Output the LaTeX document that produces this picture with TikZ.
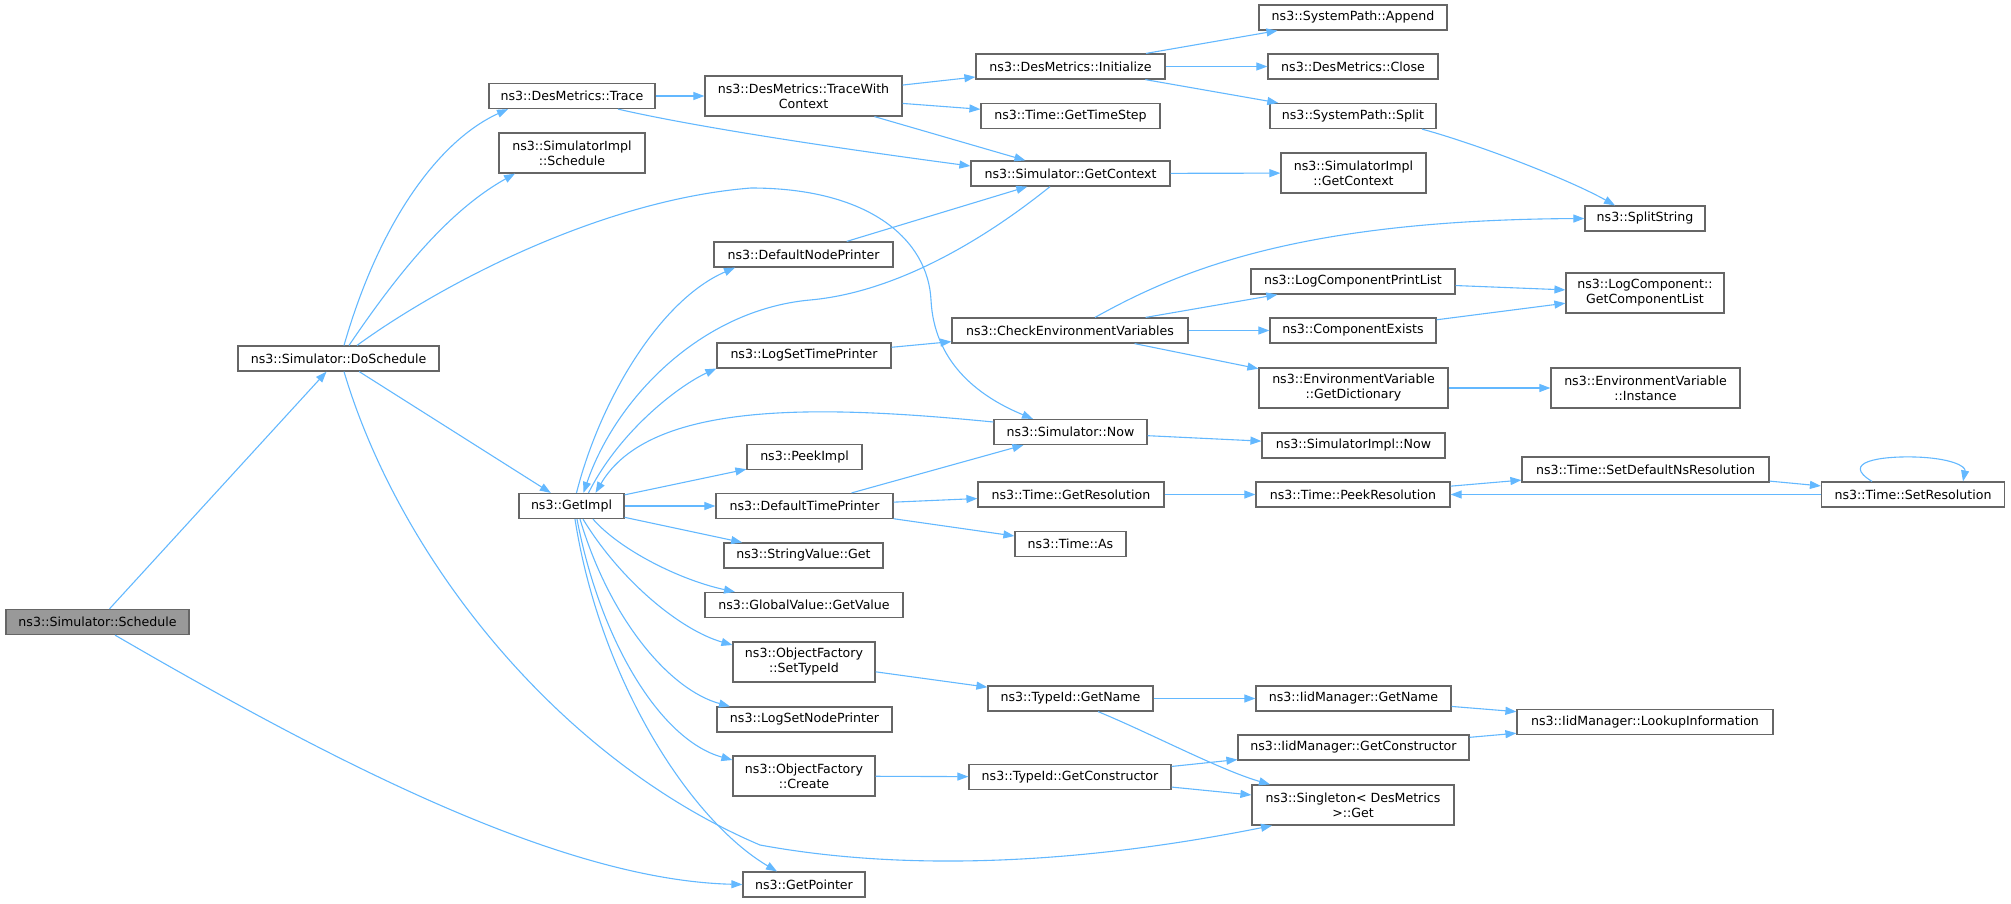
\documentclass[tikz,border=0pt]{standalone}
\usepackage{fontspec}
\setmainfont{DejaVu Sans}
\usetikzlibrary{arrows.meta}
\definecolor{edgec}{HTML}{63B8FF}
\definecolor{boxc}{HTML}{666666}
\definecolor{hl}{HTML}{999999}
\begin{document}
\begin{tikzpicture}[x=1pt,y=-1pt,
  box/.style={draw=boxc, line width=1.2pt, fill=white, inner xsep=2pt, inner ysep=1pt,
    minimum height=25pt, align=center, font=\fontsize{12.6}{15}\selectfont, text=black},
  boxtwo/.style={box, minimum height=40pt},
  edge/.style={draw=edgec, line width=1.1pt, -{Triangle[length=11pt,width=8pt]}}]
\useasboundingbox (0,0) rectangle (2011,903);
% column 0-1
\node[box, fill=hl, minimum width=183pt] (Sched) at (97.5,622) {ns3::Simulator::Schedule};
\node[box, minimum width=201pt] (DoSch) at (338.5,358.5) {ns3::Simulator::DoSchedule};
% column 2
\node[box, minimum width=166pt] (Trace) at (572,96) {ns3::DesMetrics::Trace};
\node[boxtwo, minimum width=146pt] (SImplSched) at (572,153) {ns3::SimulatorImpl\\::Schedule};
\node[box, minimum width=105pt] (GetImpl) at (571.5,506) {ns3::GetImpl};
% column 3
\node[boxtwo, minimum width=197pt] (TWC) at (803.5,96) {ns3::DesMetrics::TraceWith\\Context};
\node[box, minimum width=179pt] (DNP) at (803.5,254.5) {ns3::DefaultNodePrinter};
\node[box, minimum width=174pt] (LSTP) at (804,355.5) {ns3::LogSetTimePrinter};
\node[box, minimum width=115pt] (PeekImpl) at (804.5,457) {ns3::PeekImpl};
\node[box, minimum width=177pt] (DTP) at (804.5,506) {ns3::DefaultTimePrinter};
\node[box, minimum width=159pt] (SVGet) at (803.5,555.5) {ns3::StringValue::Get};
\node[box, minimum width=198pt] (GVGet) at (804,605) {ns3::GlobalValue::GetValue};
\node[boxtwo, minimum width=142pt] (OFSet) at (804,662) {ns3::ObjectFactory\\::SetTypeId};
\node[box, minimum width=175pt] (LSNP) at (804.5,719.5) {ns3::LogSetNodePrinter};
\node[boxtwo, minimum width=142pt] (OFCreate) at (804,776) {ns3::ObjectFactory\\::Create};
\node[box, minimum width=122pt] (GetPointer) at (804,884.5) {ns3::GetPointer};
% column 4
\node[box, minimum width=189pt] (Init) at (1070.5,66.5) {ns3::DesMetrics::Initialize};
\node[box, minimum width=179pt] (GetTimeStep) at (1070.5,116) {ns3::Time::GetTimeStep};
\node[box, minimum width=199pt] (SimGetCtx) at (1070.5,173.5) {ns3::Simulator::GetContext};
\node[box, minimum width=236pt] (CEV) at (1070,330.5) {ns3::CheckEnvironmentVariables};
\node[box, minimum width=153pt] (SimNow) at (1070.5,432) {ns3::Simulator::Now};
\node[box, minimum width=186pt] (GetRes) at (1071,494.5) {ns3::Time::GetResolution};
\node[box, minimum width=111pt] (TimeAs) at (1070.5,544) {ns3::Time::As};
\node[box, minimum width=165pt] (TIGetName) at (1070.5,698.5) {ns3::TypeId::GetName};
\node[box, minimum width=202pt] (TIGetCons) at (1070,777) {ns3::TypeId::GetConstructor};
% column 5
\node[box, minimum width=188pt] (Append) at (1353,17.5) {ns3::SystemPath::Append};
\node[box, minimum width=170pt] (Close) at (1353,66.5) {ns3::DesMetrics::Close};
\node[box, minimum width=166pt] (Split) at (1353,116) {ns3::SystemPath::Split};
\node[boxtwo, minimum width=145pt] (SImplGetCtx) at (1353.5,173) {ns3::SimulatorImpl\\::GetContext};
\node[box, minimum width=204pt] (LCPL) at (1353,281.5) {ns3::LogComponentPrintList};
\node[box, minimum width=166pt] (CompExists) at (1353,330.5) {ns3::ComponentExists};
\node[boxtwo, minimum width=189pt] (GetDict) at (1353.5,388) {ns3::EnvironmentVariable\\::GetDictionary};
\node[box, minimum width=183pt] (SImplNow) at (1353.5,445.5) {ns3::SimulatorImpl::Now};
\node[box, minimum width=194pt] (PeekRes) at (1353,494.5) {ns3::Time::PeekResolution};
\node[box, minimum width=195pt] (IidGetName) at (1353.5,698.5) {ns3::IidManager::GetName};
\node[box, minimum width=231pt] (IidGetCons) at (1353.5,747.5) {ns3::IidManager::GetConstructor};
\node[boxtwo, minimum width=202pt] (Singleton) at (1353,805) {ns3::Singleton< DesMetrics\\>::Get};
% column 6
\node[box, minimum width=120pt] (SplitString) at (1645,218.5) {ns3::SplitString};
\node[boxtwo, minimum width=158pt] (GetCompList) at (1645,293) {ns3::LogComponent::\\GetComponentList};
\node[boxtwo, minimum width=189pt] (Instance) at (1645.5,388) {ns3::EnvironmentVariable\\::Instance};
\node[box, minimum width=247pt] (SetDefNs) at (1645.5,469.5) {ns3::Time::SetDefaultNsResolution};
\node[box, minimum width=256pt] (Lookup) at (1645,722) {ns3::IidManager::LookupInformation};
% column 7
\node[box, minimum width=183pt] (SetRes) at (1913,494.5) {ns3::Time::SetResolution};

% edges from Schedule
\draw[edge] (Sched) -- (DoSch);
\draw[edge] ([xshift=17.5pt]Sched.south) .. controls (330,760) and (560,880) .. (GetPointer.west);
% edges from DoSchedule
\draw[edge] ([xshift=5.5pt]DoSch.north) .. controls (380,220) and (440,140) .. ([xshift=-64pt]Trace.south);
\draw[edge] ([xshift=10.5pt]DoSch.north) .. controls (400,270) and (450,210) .. ([xshift=-57pt]SImplSched.south);
\draw[edge] ([xshift=18.5pt]DoSch.north) .. controls (440,285) and (600,200) .. (751,188)
   .. controls (870,188) and (928,240) .. (931,300)
   .. controls (934,360) and (975,395) .. ([xshift=-37.5pt]SimNow.north);
\draw[edge] (DoSch) -- (GetImpl);
\draw[edge] ([xshift=5.5pt]DoSch.south) .. controls (400,560) and (560,760) .. (760,845)
   .. controls (950,880) and (1150,850) .. ([xshift=-81pt]Singleton.south);
% Trace
\draw[edge] (Trace) -- (TWC);
\draw[edge] ([xshift=46pt]Trace.south) .. controls (700,128) and (850,150) .. ([yshift=7.5pt]SimGetCtx.west);
% TraceWithContext
\draw[edge] (TWC) -- (Init);
\draw[edge] (TWC) -- (GetTimeStep);
\draw[edge] (TWC) -- (SimGetCtx);
% Initialize
\draw[edge] (Init) -- (Append);
\draw[edge] (Init) -- (Close);
\draw[edge] (Init) -- (Split);
\draw[edge] ([xshift=69pt]Split.south) .. controls (1480,145) and (1570,180) .. ([xshift=-30pt]SplitString.north);
% GetContext
\draw[edge] (SimGetCtx) -- (SImplGetCtx);
\draw[edge] ([xshift=-20.5pt]SimGetCtx.south) .. controls (990,235) and (900,292) .. (810,300)
   .. controls (700,310) and (615,400) .. ([xshift=12pt]GetImpl.north);
\draw[edge] (DNP) -- (SimGetCtx);
% GetImpl
\draw[edge] ([xshift=5pt]GetImpl.north) .. controls (600,400) and (660,300) .. ([xshift=-68.5pt]DNP.south);
\draw[edge] ([xshift=17pt]GetImpl.north) .. controls (620,430) and (680,385) .. ([yshift=-13pt]LSTP.west);
\draw[edge] (GetImpl) -- (PeekImpl);
\draw[edge] (GetImpl) -- (DTP);
\draw[edge] (GetImpl) -- (SVGet);
\draw[edge] ([xshift=21.5pt]GetImpl.south) .. controls (620,550) and (680,580) .. ([xshift=-69pt]GVGet.north);
\draw[edge] ([xshift=11.5pt]GetImpl.south) .. controls (620,580) and (680,630) .. ([yshift=17pt]OFSet.west);
\draw[edge] ([xshift=8.5pt]GetImpl.south) .. controls (610,620) and (670,690) .. ([xshift=-74.5pt]LSNP.north);
\draw[edge] ([xshift=5.5pt]GetImpl.south) .. controls (600,640) and (660,740) .. ([yshift=16pt]OFCreate.west);
\draw[edge] ([xshift=3.5pt]GetImpl.south) .. controls (600,680) and (690,820) .. ([xshift=-27pt]GetPointer.north);
\draw[edge] ([yshift=10pt]SimNow.west) .. controls (820,405) and (650,400) .. ([xshift=24pt]GetImpl.north);
% printers
\draw[edge] (LSTP) -- (CEV);
\draw[edge] (DTP) -- (SimNow);
\draw[edge] (DTP) -- (GetRes);
\draw[edge] (DTP) -- (TimeAs);
% CheckEnvironmentVariables
\draw[edge] ([xshift=25pt]CEV.north) .. controls (1180,270) and (1300,220) .. (SplitString.west);
\draw[edge] (CEV) -- (LCPL);
\draw[edge] (CEV) -- (CompExists);
\draw[edge] (CEV) -- (GetDict);
\draw[edge] (LCPL) -- (GetCompList);
\draw[edge] (CompExists) -- (GetCompList);
\draw[edge] (GetDict) -- (Instance);
% Now, resolution
\draw[edge] (SimNow) -- (SImplNow);
\draw[edge] (GetRes) -- (PeekRes);
\draw[edge] (PeekRes) -- (SetDefNs);
\draw[edge] (SetDefNs) -- (SetRes);
\draw[edge] (SetRes) -- (PeekRes);
\draw[edge] ([xshift=-41pt]SetRes.north) .. controls (1840,462) and (1880,456) .. (1915,457)
   .. controls (1950,458) and (1966,466) .. ([xshift=50pt]SetRes.north);
% TypeId
\draw[edge] (OFSet) -- (TIGetName);
\draw[edge] (TIGetName) -- (IidGetName);
\draw[edge] ([xshift=27.5pt]TIGetName.south) .. controls (1150,733) and (1220,770) .. ([xshift=-83pt]Singleton.north);
\draw[edge] (IidGetName) -- (Lookup);
\draw[edge] (OFCreate) -- (TIGetCons);
\draw[edge] (TIGetCons) -- (IidGetCons);
\draw[edge] (TIGetCons) -- (Singleton);
\draw[edge] (IidGetCons) -- (Lookup);
\end{tikzpicture}
\end{document}
